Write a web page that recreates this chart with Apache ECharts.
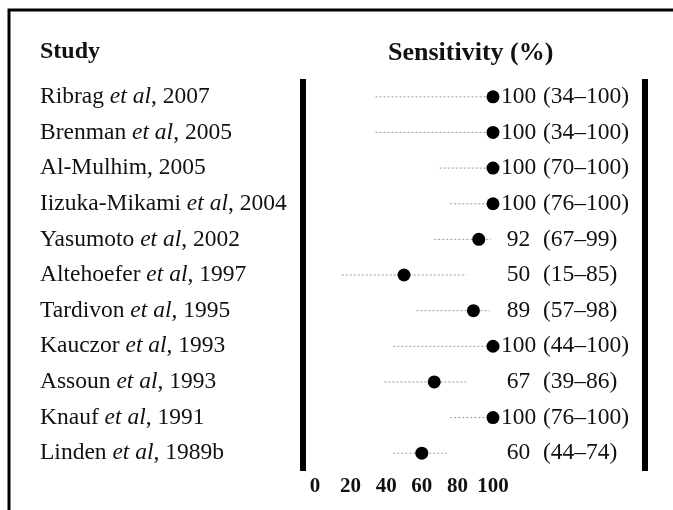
<!DOCTYPE html>
<html>
<head>
    <meta charset="utf-8">
    <title>Sensitivity (%)</title>
    <script type="text/javascript" src="https://cdn.jsdelivr.net/npm/echarts@6/dist/echarts.min.js"></script>
</head>
<body style="margin:0;background:#fff">
    <div id="main" style="width:673px;height:510px;"></div>
    <script type="text/javascript">
        // study rows, top to bottom
        var studies = ['Ribrag et al, 2007', 'Brenman et al, 2005', 'Al-Mulhim, 2005', 'Iizuka-Mikami et al, 2004',
            'Yasumoto et al, 2002', 'Altehoefer et al, 1997', 'Tardivon et al, 1995', 'Kauczor et al, 1993',
            'Assoun et al, 1993', 'Knauf et al, 1991', 'Linden et al, 1989b'];
        var sens  = [100, 100, 100, 100, 92, 50, 89, 100, 67, 100, 60];
        var lower = [34, 34, 70, 76, 67, 15, 57, 44, 39, 76, 44];
        var upper = [100, 100, 100, 100, 99, 85, 98, 100, 86, 100, 74];
        var ticks = [0, 20, 40, 60, 80, 100];

        var serif = 'Liberation Serif';
        var myChart = echarts.init(document.getElementById('main'));

        var option = {
            backgroundColor: '#fff',
            animation: false,
            title: [
                {text: 'Study', left: 40, top: 40, padding: 0,
                    textStyle: {fontFamily: serif, fontSize: 24, fontWeight: 'bold', color: '#111'}},
                {text: 'Sensitivity (%)', left: 388, top: 40, padding: 0,
                    textStyle: {fontFamily: serif, fontSize: 26, fontWeight: 'bold', color: '#111'}}
            ],
            graphic: [{
                type: 'polyline',
                shape: {points: [[9, 515], [9, 10], [680, 10]]},
                style: {stroke: '#000', lineWidth: 3, fill: null}
            }],
            grid: {left: 315, right: 180, top: 79, bottom: 39},
            xAxis: {
                type: 'value',
                min: ticks[0],
                max: ticks[ticks.length - 1],
                interval: 20,
                axisLine: {show: false},
                axisTick: {show: false},
                splitLine: {show: false},
                axisLabel: {fontFamily: serif, fontSize: 21, fontWeight: 'bold', color: '#111', margin: 5}
            },
            yAxis: [
                {
                    type: 'category',
                    data: studies,
                    inverse: true,
                    position: 'left',
                    offset: 12,
                    axisLine: {onZero: false, lineStyle: {color: '#000', width: 6, cap: 'butt'}},
                    axisTick: {show: false},
                    axisLabel: {
                        align: 'left',
                        margin: 263,
                        fontFamily: serif,
                        fontSize: 23.5,
                        color: '#111',
                        formatter: function (v) {
                            return '{n|' + v.replace('et al', '}{i|et al}{n|') + '}';
                        },
                        rich: {
                            n: {fontFamily: serif, fontSize: 23.5, color: '#111'},
                            i: {fontFamily: serif, fontSize: 23.5, color: '#111', fontStyle: 'italic'}
                        }
                    }
                },
                {
                    type: 'category',
                    data: studies,
                    inverse: true,
                    position: 'right',
                    offset: 152,
                    axisLine: {onZero: false, lineStyle: {color: '#000', width: 6, cap: 'butt'}},
                    axisTick: {show: false},
                    axisLabel: {
                        align: 'left',
                        margin: -145,
                        fontFamily: serif,
                        fontSize: 23.5,
                        color: '#111',
                        formatter: function (v, i) {
                            return '{v|' + sens[i] + '}{c| (' + lower[i] + '\u2013' + upper[i] + ')}';
                        },
                        rich: {
                            v: {fontFamily: serif, fontSize: 23.5, color: '#111', width: 37, align: 'right'},
                            c: {fontFamily: serif, fontSize: 23.5, color: '#111'}
                        }
                    }
                }
            ],
            series: [
                {
                    type: 'custom',
                    yAxisIndex: 0,
                    data: lower.map(function (l, i) { return [l, upper[i], i]; }),
                    encode: {x: [0, 1], y: 2},
                    renderItem: function (params, api) {
                        var y = api.value(2);
                        var a = api.coord([api.value(0), y]);
                        var b = api.coord([api.value(1), y]);
                        return {
                            type: 'line',
                            shape: {x1: a[0], y1: a[1], x2: b[0], y2: b[1]},
                            style: {stroke: '#999', lineWidth: 1, lineDash: [2, 2]}
                        };
                    }
                },
                {
                    type: 'scatter',
                    yAxisIndex: 0,
                    clip: false,
                    symbol: 'circle',
                    symbolSize: 13,
                    itemStyle: {color: '#000', opacity: 1},
                    data: sens.map(function (v, i) { return [v, i]; })
                }
            ]
        };

        myChart.setOption(option);
    </script>
</body>
</html>
